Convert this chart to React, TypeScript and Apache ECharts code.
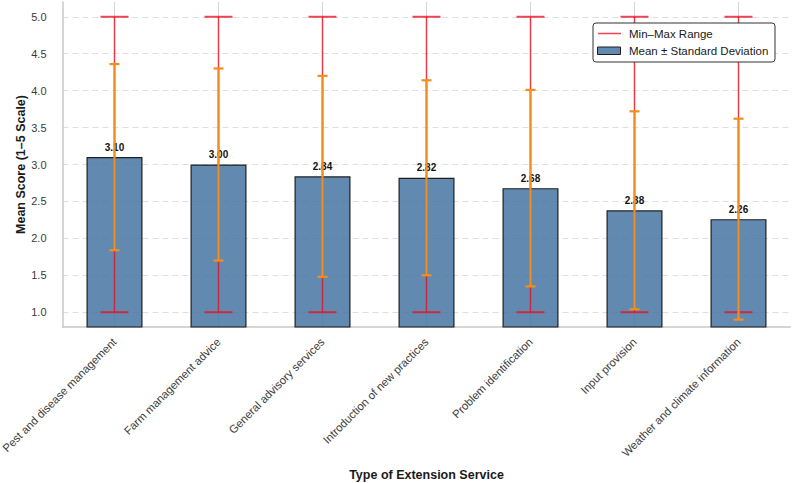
import React, { useEffect, useRef } from 'react';
import * as echarts from 'echarts';

// Extension service types, ordered by mean score
const categories = [
  'Pest and disease management',
  'Farm management advice',
  'General advisory services',
  'Introduction of new practices',
  'Problem identification',
  'Input provision',
  'Weather and climate information',
];
const means = [3.1, 3.0, 2.84, 2.82, 2.68, 2.38, 2.26];
const stdDevs = [1.26, 1.3, 1.36, 1.32, 1.33, 1.34, 1.36];
const minScores = [1, 1, 1, 1, 1, 1, 1];
const maxScores = [5, 5, 5, 5, 5, 5, 5];
const yTicks = [1.0, 1.5, 2.0, 2.5, 3.0, 3.5, 4.0, 4.5, 5.0];

const FONT = '"Liberation Sans", Arial, Helvetica, sans-serif';
const RANGE_COLOR = 'rgba(232, 16, 36, 0.78)';
const SD_COLOR = '#f58d1c';
const BAR_FILL = 'rgba(70, 117, 163, 0.85)';

function errorRenderer(color: string, lineWidth: number, capHalf: number, capWidth: number) {
  return (_params: any, api: any) => {
    const idx = api.value(0);
    const lo = api.coord([idx, api.value(1)]);
    const hi = api.coord([idx, api.value(2)]);
    const stem = { stroke: color, lineWidth };
    const cap = { stroke: color, lineWidth: capWidth };
    return {
      type: 'group',
      children: [
        { type: 'line', shape: { x1: lo[0], y1: lo[1], x2: hi[0], y2: hi[1] }, style: stem },
        { type: 'line', shape: { x1: lo[0] - capHalf, y1: lo[1], x2: lo[0] + capHalf, y2: lo[1] }, style: cap },
        { type: 'line', shape: { x1: hi[0] - capHalf, y1: hi[1], x2: hi[0] + capHalf, y2: hi[1] }, style: cap },
      ],
    };
  };
}

export default function App() {
  const ref = useRef<HTMLDivElement>(null);

  useEffect(() => {
    if (!ref.current) return;
    const chart = echarts.init(ref.current, undefined, { renderer: 'svg' });

    const rangeData = categories.map((_, i) => [i, minScores[i], maxScores[i]]);
    const sdData = categories.map((_, i) => [i, means[i] - stdDevs[i], means[i] + stdDevs[i]]);
    const gridData = categories.map((_, i) => [i, means[i]]);

    // legend box drawn on top of everything
    const LZ = 100;

    chart.setOption({
      animation: false,
      textStyle: { fontFamily: FONT },
      grid: { left: 62.5, right: 8.5, top: 2, bottom: 156, containLabel: false, outerBoundsMode: 'none' },
      xAxis: {
        type: 'category',
        data: categories,
        axisLine: { show: true, lineStyle: { color: '#c8c8c8', width: 1.5 } },
        axisTick: { show: false },
        axisLabel: {
          rotate: 45,
          interval: 0,
          margin: 13,
          fontSize: 11.3,
          color: '#3a3a3a',
          fontFamily: FONT,
        },
        splitLine: { show: false },
        name: 'Type of Extension Service',
        nameLocation: 'middle',
        nameGap: 141,
        nameMoveOverlap: false,
        nameTextStyle: { fontSize: 12.5, fontWeight: 'bold', color: '#1a1a1a', fontFamily: FONT },
      },
      yAxis: {
        type: 'value',
        min: 0.8,
        max: 5.2,
        axisLine: { show: true, lineStyle: { color: '#c8c8c8', width: 1.5 } },
        axisTick: { show: false, customValues: yTicks },
        axisLabel: {
          customValues: yTicks,
          formatter: (v: number) => v.toFixed(1),
          margin: 16,
          fontSize: 11,
          color: '#3a3a3a',
          fontFamily: FONT,
        },
        splitLine: { show: true, lineStyle: { color: '#dedede', width: 1, type: [6, 4] } },
        name: 'Mean Score (1–5 Scale)',
        nameLocation: 'middle',
        nameGap: 35,
        nameMoveOverlap: false,
        nameTextStyle: { fontSize: 12.5, fontWeight: 'bold', color: '#1a1a1a', fontFamily: FONT },
      },
      series: [
        {
          // vertical grid lines at each category
          type: 'custom',
          z: 1,
          silent: true,
          data: gridData,
          encode: { x: 0, y: 1 },
          renderItem: (params: any, api: any) => {
            const x = api.coord([api.value(0), 0])[0];
            const cs = params.coordSys;
            return {
              type: 'line',
              shape: { x1: x, y1: cs.y, x2: x, y2: cs.y + cs.height },
              style: { stroke: '#d4d4d4', lineWidth: 1 },
            };
          },
        },
        {
          name: 'Mean ± Standard Deviation',
          type: 'bar',
          z: 2,
          data: means,
          barWidth: 56,
          itemStyle: { color: BAR_FILL, borderColor: '#1f1f1f', borderWidth: 1.2 },
          label: {
            show: true,
            position: 'top',
            distance: 5,
            formatter: (p: any) => Number(p.value).toFixed(2),
            fontSize: 10,
            fontWeight: 'bold',
            color: '#111',
            fontFamily: FONT,
          },
        },
        {
          name: 'Min–Max Range',
          type: 'custom',
          z: 3,
          data: rangeData,
          encode: { x: 0, y: [1, 2] },
          renderItem: errorRenderer(RANGE_COLOR, 1.5, 14, 2),
        },
        {
          name: 'Standard Deviation',
          type: 'custom',
          z: 4,
          data: sdData,
          encode: { x: 0, y: [1, 2] },
          renderItem: errorRenderer(SD_COLOR, 2.2, 5, 2.2),
        },
      ],
      graphic: [
        {
          type: 'rect',
          z: LZ,
          shape: { x: 593, y: 23, width: 182, height: 39, r: 3 },
          style: { fill: '#ffffff', stroke: '#333', lineWidth: 1 },
        },
        {
          type: 'line',
          z: LZ + 1,
          shape: { x1: 598, y1: 33.5, x2: 621, y2: 33.5 },
          style: { stroke: RANGE_COLOR, lineWidth: 1.5 },
        },
        {
          type: 'text',
          z: LZ + 1,
          x: 629,
          y: 33.5,
          style: { text: 'Min–Max Range', fontSize: 11.5, fill: '#1a1a1a', fontFamily: FONT, verticalAlign: 'middle' },
        },
        {
          type: 'rect',
          z: LZ + 1,
          shape: { x: 597.5, y: 47, width: 23, height: 7.5 },
          style: { fill: BAR_FILL, stroke: '#1f1f1f', lineWidth: 1 },
        },
        {
          type: 'text',
          z: LZ + 1,
          x: 629,
          y: 51,
          style: { text: 'Mean ± Standard Deviation', fontSize: 11.5, fill: '#1a1a1a', fontFamily: FONT, verticalAlign: 'middle' },
        },
      ],
    });

    return () => chart.dispose();
  }, []);

  return <div ref={ref} style={{ width: 799, height: 483, position: 'absolute', left: 0, top: 0 }} />;
}
